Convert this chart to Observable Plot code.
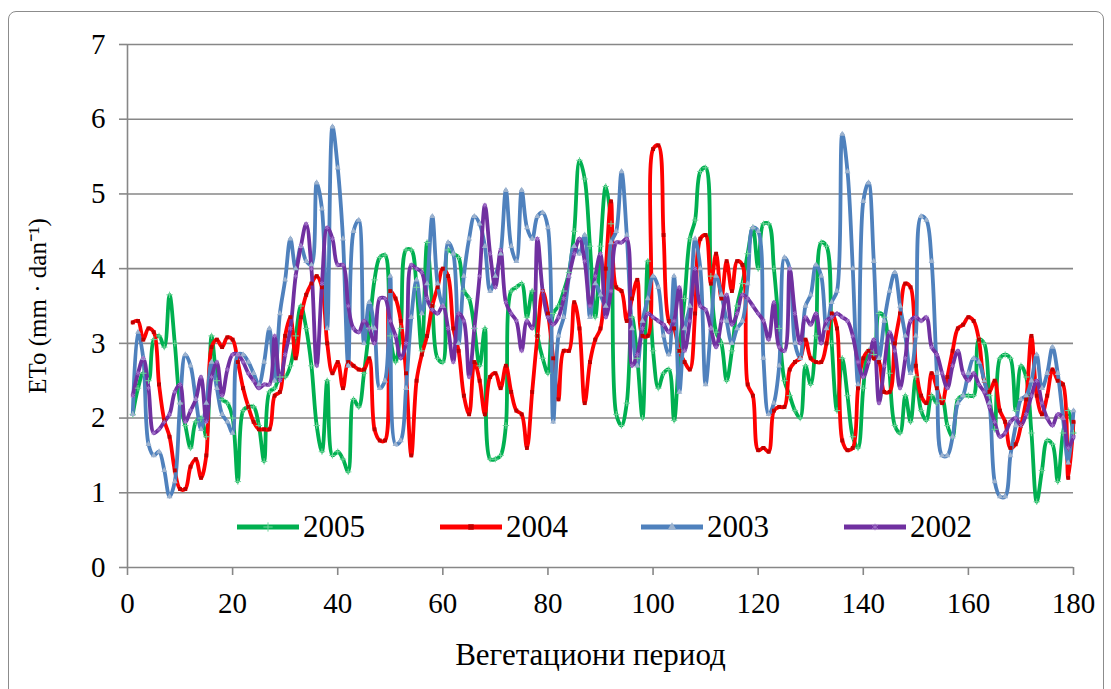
<!DOCTYPE html>
<html><head><meta charset="utf-8">
<script src="https://cdn.jsdelivr.net/npm/d3@7"></script>
<script src="https://cdn.jsdelivr.net/npm/@observablehq/plot@0.6"></script>
<style>
body{margin:0;background:#fff;}
#wrap{position:relative;width:1111px;height:689px;overflow:hidden;font-family:'Liberation Serif',serif;}
#border{position:absolute;left:8px;top:11px;width:1094px;height:720px;border:1.5px solid #8c8c8c;border-radius:8px;}
#chart{position:absolute;left:0;top:0;}
#chart svg text{font-family:'Liberation Serif',serif;}
.li{position:absolute;top:510px;height:34px;display:flex;align-items:center;font-size:31px;color:#000;}
.li svg{margin-right:4px;}
</style></head>
<body><div id="wrap"><div id="border"></div><div id="chart"></div><div id="legend"></div></div>
<script>
const years = ["2005", "2004", "2003", "2002"];
const colors = ["#00B050", "#FF0000", "#4F81BD", "#7030A0"];
const symbols = ["plus", "square", "triangle", "asterisk"];
const xTicks = [0, 20, 40, 60, 80, 100, 120, 140, 160, 180];
const yTicks = [0, 1, 2, 3, 4, 5, 6, 7];
const xLabel = "Вегетациони период";
const yLabel = "ETo (mm · dan⁻¹)";

const v2005 = [2.05,2.4,2.6,2.5,3.05,3.1,2.95,3.65,3.0,2.2,
1.9,1.6,1.95,2.0,1.75,3.1,2.5,2.25,2.2,2.0,
1.15,2.1,2.15,2.15,1.9,1.42,2.35,2.4,2.55,2.55,
2.7,3.1,3.5,3.2,2.7,1.9,1.55,2.5,1.5,1.55,
1.45,1.28,2.25,2.15,2.6,3.2,3.85,4.15,4.18,3.1,
2.75,3.2,4.25,4.25,3.75,2.9,4.35,3.5,2.8,2.75,
4.25,4.2,4.15,3.7,3.6,3.2,2.7,3.2,1.45,1.45,
1.5,1.9,3.7,3.75,3.8,3.35,3.7,3.1,2.8,2.6,
3.4,3.5,3.7,3.95,4.5,5.45,5.2,4.3,3.35,4.3,
5.1,4.6,2.05,1.9,2.2,3.35,2.8,2.0,4.1,2.9,
2.4,2.6,2.65,1.97,2.9,3.6,4.4,4.65,5.3,5.35,
3.9,3.15,3.0,2.5,2.9,3.5,3.8,4.2,4.55,4.0,
4.6,4.6,4.0,3.2,2.5,2.3,2.1,2.0,2.7,2.45,
3.1,4.35,4.3,3.0,2.1,2.8,2.3,1.75,1.6,2.4,
2.9,2.85,3.4,3.35,2.6,1.9,1.8,2.3,1.95,2.55,
2.1,1.97,2.3,2.2,2.25,1.9,1.75,2.25,2.3,2.3,
2.3,3.05,3.0,2.3,1.85,2.8,2.85,2.8,2.1,2.7,
2.55,1.8,0.88,1.3,1.7,1.65,1.15,1.8,2.1,1.8];

const v2004 = [3.28,3.3,3.05,3.2,3.15,2.45,1.97,1.75,1.3,1.05,
1.05,1.35,1.45,1.2,1.5,2.95,3.05,2.95,3.08,3.05,
2.75,2.4,2.15,1.95,1.85,1.85,1.85,2.3,2.35,3.1,
3.35,2.8,3.35,3.65,3.8,3.9,3.75,3.0,2.6,2.75,
2.4,2.75,2.7,2.65,2.65,2.8,1.85,1.7,1.7,3.7,
3.6,3.3,2.6,1.5,2.5,2.85,3.1,3.5,3.75,4.0,
3.9,3.2,2.9,2.3,2.05,2.75,2.5,2.05,2.55,2.6,
2.4,2.7,2.35,2.1,2.05,1.6,2.35,3.1,3.7,3.4,
2.8,2.25,2.9,2.9,3.55,3.2,2.2,2.75,3.05,3.2,
4.0,4.9,3.75,3.7,3.3,3.6,3.85,3.1,3.1,5.6,
5.65,4.45,3.3,3.2,2.9,2.75,2.65,3.4,4.4,4.45,
3.8,4.2,3.6,4.1,3.7,4.1,4.05,2.45,2.3,1.57,
1.6,1.55,2.1,2.15,2.15,2.65,2.75,2.8,3.05,2.8,
2.75,2.75,3.0,3.4,3.2,1.7,1.57,1.6,2.4,2.8,
2.9,2.8,2.75,2.35,2.35,3.0,3.4,3.8,3.75,2.7,
2.3,2.2,2.6,2.4,2.2,2.55,2.9,3.2,3.25,3.35,
3.3,3.05,2.5,2.35,2.5,2.1,1.95,1.6,1.65,1.9,
2.25,3.1,2.3,2.05,2.3,2.65,2.5,2.45,1.2,1.95];

const v2003 = [2.05,3.15,2.8,1.65,1.5,1.55,1.3,0.95,1.15,2.2,
2.85,2.7,2.25,1.85,2.2,2.75,2.4,2.05,1.95,1.8,
2.85,2.85,2.75,2.6,2.45,2.75,3.2,2.5,3.4,3.85,
4.4,4.0,4.3,4.1,4.05,5.15,4.8,3.2,5.9,5.35,
4.4,2.7,4.5,4.65,3.0,3.55,3.2,2.4,2.5,3.9,
1.65,1.7,2.4,3.35,3.85,3.4,3.8,4.7,3.8,3.5,
4.35,4.2,3.0,3.9,4.4,4.7,4.6,4.3,3.7,3.9,
4.2,5.05,4.3,4.1,5.05,4.55,4.4,4.7,4.75,4.55,
1.95,3.1,3.35,3.9,4.3,4.2,4.45,3.35,3.8,3.65,
3.5,4.35,4.5,5.3,4.45,3.2,2.7,3.3,3.6,3.9,
3.75,3.1,2.85,3.9,2.35,3.2,3.5,4.4,4.0,2.45,
3.2,3.9,3.65,3.3,3.0,3.2,3.3,3.8,4.55,4.5,
2.8,2.05,2.2,2.7,4.15,4.0,3.0,2.8,3.5,3.65,
4.05,3.9,3.2,3.55,3.7,5.8,5.3,4.0,2.45,4.9,
5.15,4.1,2.8,3.3,3.7,3.95,3.5,3.1,2.6,3.1,
4.7,4.65,4.1,2.6,1.5,1.5,1.75,2.2,2.3,2.6,
2.8,2.75,2.5,2.2,1.15,0.95,0.95,1.5,1.9,2.25,
2.3,2.5,2.85,2.4,2.6,2.95,2.6,2.0,1.4,2.1];

const v2002 = [2.3,2.6,2.8,2.4,1.8,1.85,1.95,2.05,2.35,2.45,
1.95,2.1,2.25,2.55,1.95,2.55,2.75,2.3,2.65,2.85,
2.85,2.75,2.6,2.5,2.4,2.45,2.45,3.1,2.5,2.85,
3.2,3.9,4.3,4.6,4.0,2.7,3.8,4.55,4.4,4.05,
4.05,3.5,3.2,3.15,3.3,3.2,3.0,3.6,3.6,3.3,
3.1,2.8,3.0,4.05,4.0,3.95,3.6,3.45,3.4,3.5,
3.2,2.75,3.4,3.3,2.55,3.2,3.9,4.85,4.2,3.75,
4.25,3.55,3.4,3.3,2.9,3.3,3.2,4.4,3.7,3.35,
3.25,3.35,3.6,3.9,4.2,4.4,4.1,3.5,3.9,4.2,
3.35,3.7,4.35,4.35,4.4,2.7,2.85,3.2,3.4,3.35,
3.3,3.25,3.15,3.3,3.75,2.9,3.3,4.0,3.5,3.45,
3.2,2.95,3.3,3.65,3.25,3.4,3.65,3.6,3.5,3.4,
3.3,3.05,3.55,2.95,2.9,4.0,3.4,3.0,3.35,3.25,
3.4,3.0,3.3,3.35,3.4,3.35,3.3,3.1,2.75,2.55,
2.75,3.05,2.2,2.7,3.15,2.9,2.4,2.8,3.3,3.35,
3.3,3.35,2.95,2.85,2.6,2.4,2.7,2.9,2.6,2.5,
2.6,2.45,2.35,2.15,1.95,1.75,1.8,1.95,2.0,1.9,
2.05,2.3,2.5,2.2,2.0,1.9,2.05,2.0,1.6,1.75];

const seriesValues = [v2005, v2004, v2003, v2002];
const data = years.flatMap((yr, i) => seriesValues[i].map((v, j) => ({year: yr, day: j + 1, value: v})));

const grid = "#878787";
const serif = "'Liberation Serif',serif";
const dotMarks = years.map((yr, i) => Plot.dot(data.filter(d => d.year === yr), {
  x: "day", y: "value", symbol: symbols[i], r: 2.2,
  ...(symbols[i] === "square" || symbols[i] === "triangle"
      ? {fill: i === 2 ? "#9db3cf" : "#c00000", stroke: "none"}
      : {stroke: i === 0 ? "#6fd49a" : "#a070c8", strokeWidth: 1, fill: "none"})
}));

const chart = Plot.plot({
  width: 1111, height: 689,
  marginLeft: 127, marginRight: 38, marginTop: 44, marginBottom: 122,
  style: {fontFamily: serif, background: "transparent", color: "#000"},
  x: {domain: [0, 180]},
  y: {domain: [0, 7]},
  color: {domain: years, range: colors},
  marks: [
    Plot.gridY(yTicks.filter(t => t > 0), {stroke: grid, strokeOpacity: 1, strokeWidth: 1.6}),
    Plot.ruleY([0], {stroke: grid, strokeWidth: 1.6}),
    Plot.ruleX([0], {y1: 0, y2: 7, stroke: grid, strokeWidth: 1.6}),
    Plot.axisY(yTicks, {tickSize: 8, tickPadding: 14, fontSize: 29, stroke: grid, strokeWidth: 1.6, fill: "#000", label: null, tickFormat: d => String(d)}),
    Plot.axisX(xTicks, {tickSize: 8, tickPadding: 17, fontSize: 29, stroke: grid, strokeWidth: 1.6, fill: "#000", label: null, tickFormat: d => String(d)}),
    Plot.text([xLabel], {frameAnchor: "bottom", dy: 88, dx: -10, fontSize: 31, lineAnchor: "middle", fill: "#000"}),
    Plot.text([yLabel], {frameAnchor: "left", dx: -90, rotate: -90, fontSize: 25, lineAnchor: "middle", textAnchor: "middle", fill: "#000"}),
    Plot.line(data, {x: "day", y: "value", z: "year", stroke: "year", strokeWidth: 3.8, strokeLinejoin: "round", curve: "catmull-rom"}),
    ...dotMarks
  ]
});
document.getElementById("chart").appendChild(chart);

// legend inside plot area
const legendLeft = [237, 440, 641, 844];
const legend = document.getElementById("legend");
years.forEach((yr, i) => {
  const div = document.createElement("div");
  div.className = "li";
  div.style.left = legendLeft[i] + "px";
  const svg = d3.create("svg").attr("width", 62).attr("height", 20);
  svg.append("line").attr("x1", 0).attr("x2", 62).attr("y1", 10).attr("y2", 10)
     .attr("stroke", colors[i]).attr("stroke-width", 5);
  const sym = d3.symbol().type({plus: d3.symbolPlus, square: d3.symbolSquare, triangle: d3.symbolTriangle, asterisk: d3.symbolAsterisk}[symbols[i]]).size(30);
  svg.append("path").attr("d", sym()).attr("transform", "translate(31,10)")
     .attr("fill", symbols[i] === "square" ? "#c00000" : symbols[i] === "triangle" ? "#9db3cf" : "none")
     .attr("stroke", symbols[i] === "plus" ? "#6fd49a" : symbols[i] === "asterisk" ? "#a070c8" : "none");
  div.appendChild(svg.node());
  const span = document.createElement("span");
  span.textContent = yr;
  div.appendChild(span);
  legend.appendChild(div);
});
</script>
</body></html>
